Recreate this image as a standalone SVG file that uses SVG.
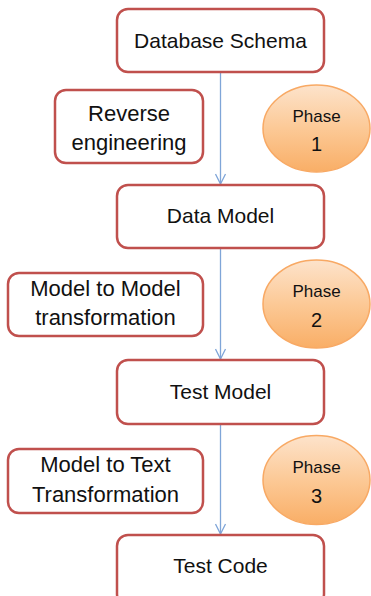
<svg xmlns="http://www.w3.org/2000/svg" width="371" height="596" viewBox="0 0 371 596">
<defs>
<linearGradient id="og" x1="0" y1="0" x2="0" y2="1">
<stop offset="0" stop-color="#FDE3CB"/>
<stop offset="0.5" stop-color="#FCC996"/>
<stop offset="1" stop-color="#F9AE66"/>
</linearGradient>
<marker id="ah" viewBox="0 0 12 12" refX="11" refY="6" markerWidth="12" markerHeight="12" markerUnits="userSpaceOnUse" orient="auto">
<path d="M1,1 L11,6 L1,11" fill="none" stroke="#7FA5D8" stroke-width="1.3"/>
</marker>
</defs>
<style>
.box{fill:#fff;stroke:#C0504D;stroke-width:2.5}
.ph{fill:url(#og);stroke:#F8A964;stroke-width:1.5}
.t{font-family:"Liberation Sans",Arial,sans-serif;font-size:21px;fill:#111;text-anchor:middle}
.l{font-family:"Liberation Sans",Arial,sans-serif;font-size:22px;fill:#111;text-anchor:middle}
.p{font-family:"Liberation Sans",Arial,sans-serif;font-size:17px;fill:#111;text-anchor:middle}
.n{font-family:"Liberation Sans",Arial,sans-serif;font-size:20px;fill:#111;text-anchor:middle}
.c{stroke:#7FA5D8;stroke-width:1.3;fill:none}
</style>
<rect width="371" height="596" fill="#fff"/>
<g id="connectors">
<line class="c" x1="220.5" y1="73" x2="220.5" y2="184" marker-end="url(#ah)"/>
<line class="c" x1="220.5" y1="248" x2="220.5" y2="359" marker-end="url(#ah)"/>
<line class="c" x1="220.5" y1="424" x2="220.5" y2="534" marker-end="url(#ah)"/>
</g>
<g id="database-schema">
<rect class="box" x="117" y="9" width="207" height="63" rx="11"/>
<text class="t" x="220.5" y="48">Database Schema</text>
</g>
<g id="reverse-engineering">
<rect class="box" x="55" y="90" width="148" height="73" rx="11"/>
<text class="l" x="129" y="121">Reverse</text>
<text class="l" x="129" y="150">engineering</text>
</g>
<g id="phase1">
<ellipse class="ph" cx="316.5" cy="128.5" rx="53.5" ry="43.5"/>
<text class="p" x="316.5" y="122">Phase</text>
<text class="n" x="316.5" y="151">1</text>
</g>
<g id="data-model">
<rect class="box" x="117" y="185" width="207" height="63" rx="11"/>
<text class="t" x="220.5" y="223">Data Model</text>
</g>
<g id="model-to-model">
<rect class="box" x="8" y="273" width="195" height="63" rx="11"/>
<text class="l" x="105.5" y="296">Model to Model</text>
<text class="l" x="105.5" y="325">transformation</text>
</g>
<g id="phase2">
<ellipse class="ph" cx="316.5" cy="304" rx="53.5" ry="44"/>
<text class="p" x="316.5" y="297">Phase</text>
<text class="n" x="316.5" y="327">2</text>
</g>
<g id="test-model">
<rect class="box" x="117" y="360" width="207" height="64" rx="11"/>
<text class="t" x="220.5" y="399">Test Model</text>
</g>
<g id="model-to-text">
<rect class="box" x="8" y="449" width="195" height="64" rx="11"/>
<text class="l" x="105.5" y="472">Model to Text</text>
<text class="l" x="105.5" y="502">Transformation</text>
</g>
<g id="phase3">
<ellipse class="ph" cx="316.5" cy="480" rx="53.5" ry="44.5"/>
<text class="p" x="316.5" y="473">Phase</text>
<text class="n" x="316.5" y="503">3</text>
</g>
<g id="test-code">
<rect class="box" x="117" y="535" width="207" height="70" rx="11"/>
<text class="t" x="220.5" y="573">Test Code</text>
</g>
</svg>
